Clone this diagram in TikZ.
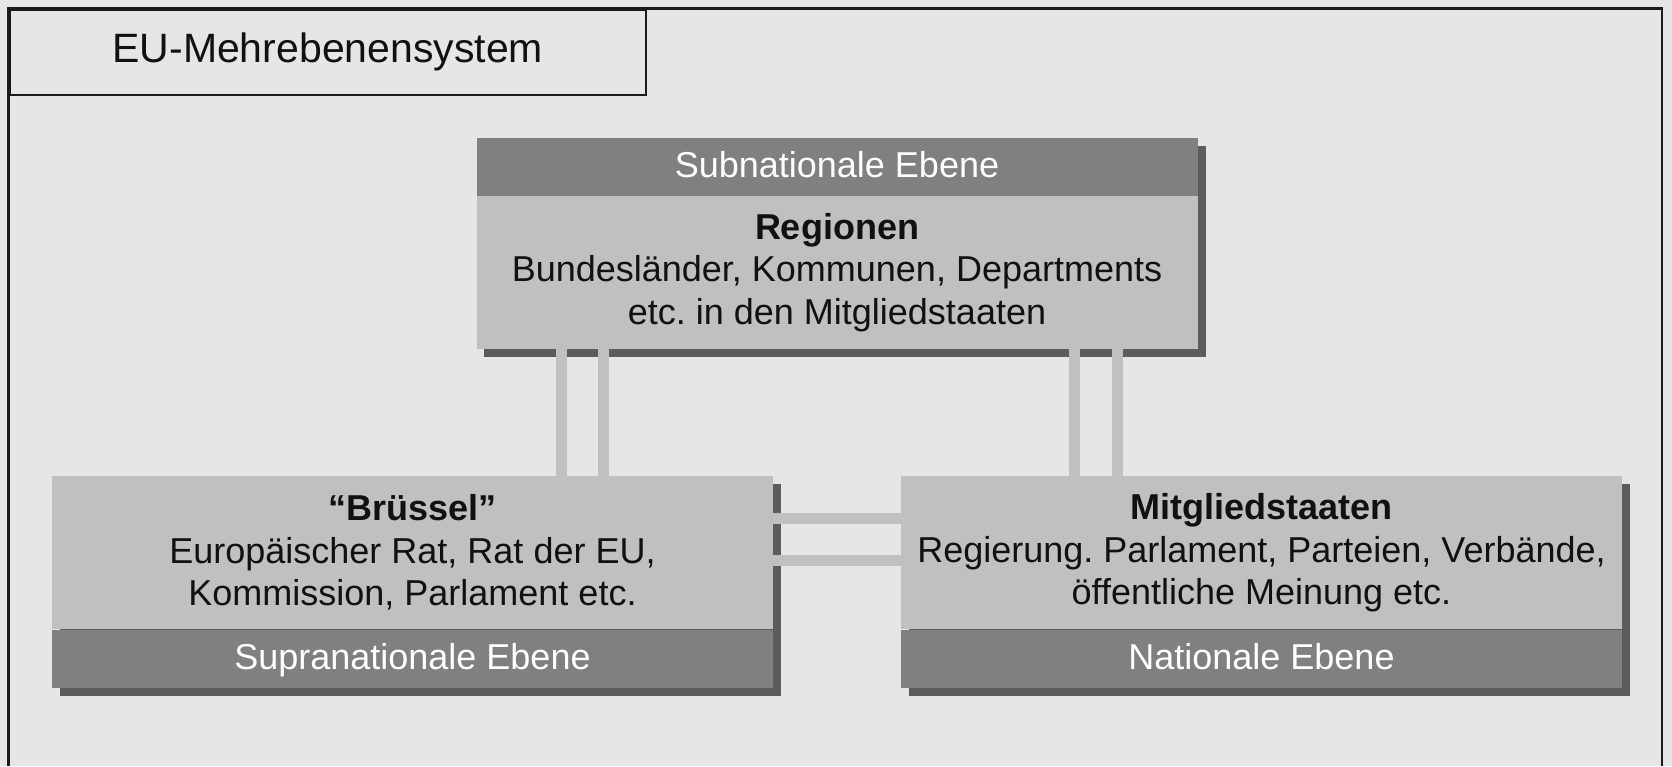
\documentclass[tikz,border=0pt]{standalone}
\usepackage{fontspec}
\setmainfont{Liberation Sans}
\frenchspacing
\definecolor{bgc}{HTML}{E6E6E6}
\definecolor{bodyc}{HTML}{C0C0C0}
\definecolor{hdrc}{HTML}{808080}
\definecolor{shadc}{HTML}{5C5C5C}
\definecolor{txtc}{HTML}{111111}
\definecolor{framec}{HTML}{1A1A1A}
\pgfdeclarelayer{bg}
\pgfsetlayers{bg,main}
\begin{document}
\begin{tikzpicture}[x=1pt,y=-1pt,
  hdr/.style={rectangle, fill=hdrc, text=white, minimum width=721pt, minimum height=58pt, inner sep=0pt, text height=26pt, text depth=4pt, font=\fontsize{36}{42.5}\selectfont},
  bodybox/.style={rectangle, fill=bodyc, text=txtc, minimum width=721pt, minimum height=153pt, inner sep=0pt, align=center, font=\fontsize{36}{42.5}\selectfont},
  conn/.style={draw=bodyc, line width=11pt},
  shad/.style={fill=shadc},
  titlebox/.style={rectangle, draw=framec, line width=2pt, fill=bgc, minimum width=636.5pt, minimum height=85.5pt, inner sep=0pt, text=txtc, font=\fontsize{41}{48}\selectfont}
]
\useasboundingbox (0,0) rectangle (1672,766);

% boxes
\node[hdr, anchor=north] (th) at (837,137.5) {Subnationale Ebene};
\node[bodybox, anchor=north] (tb) at (th.south) {\textbf{Regionen}\\Bundesländer, Kommunen, Departments\\etc. in den Mitgliedstaaten};
\node[bodybox, anchor=north] (lb) at (412.5,476) {\textbf{“Brüssel”}\\Europäischer Rat, Rat der EU,\\Kommission, Parlament etc.};
\node[hdr, anchor=north] (lf) at (lb.south) {Supranationale Ebene};
\node[bodybox, anchor=north] (rb) at (1261.5,476) {\textbf{Mitgliedstaaten}\\Regierung. Parlament, Parteien, Verbände,\\öffentliche Meinung etc.};
\node[hdr, anchor=north] (rf) at (rb.south) {Nationale Ebene};

\begin{pgfonlayer}{bg}
\fill[bgc] (0,0) rectangle (1672,766);
\fill[shad] ([shift={(8,8)}]th.north west) rectangle ([shift={(8,8)}]tb.south east);
\fill[shad] ([shift={(8,8)}]lb.north west) rectangle ([shift={(8,8)}]lf.south east);
\fill[shad] ([shift={(8,8)}]rb.north west) rectangle ([shift={(8,8)}]rf.south east);
\end{pgfonlayer}

% connectors
\coordinate (v1) at (561,0);
\coordinate (v2) at (603,0);
\coordinate (v3) at (1074,0);
\coordinate (v4) at (1117,0);
\coordinate (h1) at (0,518);
\coordinate (h2) at (0,560);
\draw[conn] (tb.south -| v1) -- (lb.north -| v1);
\draw[conn] (tb.south -| v2) -- (lb.north -| v2);
\draw[conn] (tb.south -| v3) -- (rb.north -| v3);
\draw[conn] (tb.south -| v4) -- (rb.north -| v4);
\draw[conn] (lb.east |- h1) -- (rb.west |- h1);
\draw[conn] (lb.east |- h2) -- (rb.west |- h2);

% frame and title
\draw[framec, line width=2.5pt] (8.5,766) -- (8.5,8.5) -- (1662,8.5) -- (1662,766);
\node[titlebox, anchor=north west] (title) at (8.5,8.5) {EU-Mehrebenensystem};
\end{tikzpicture}
\end{document}
